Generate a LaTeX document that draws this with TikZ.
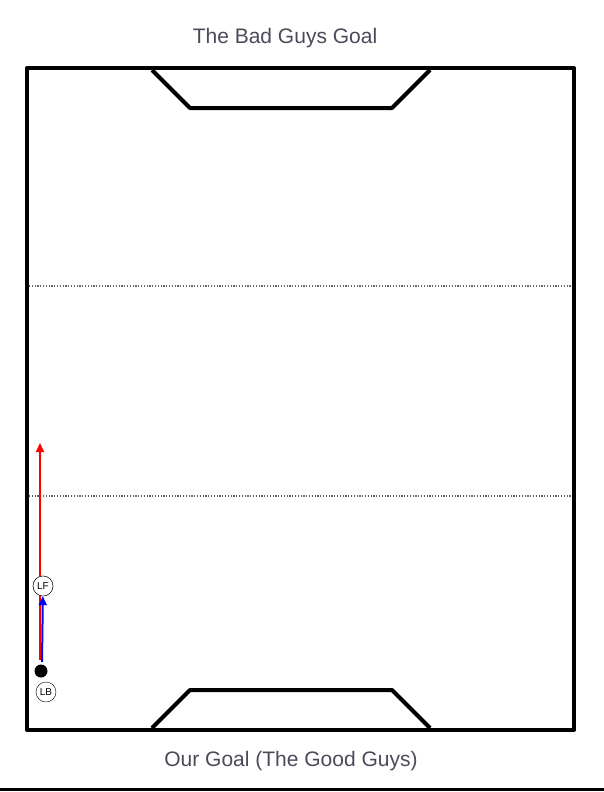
\documentclass[tikz,border=0pt]{standalone}
\usepackage{fontspec}
\setmainfont{Liberation Sans}
\usetikzlibrary{arrows.meta}
\definecolor{txt}{HTML}{4A4A5A}
\begin{document}
\begin{tikzpicture}[x=1pt,y=-1pt,
  fieldline/.style={line width=4pt,line join=round},
  half/.style={black!60,dash pattern=on 1.2pt off 1.6pt,line width=1.2pt},
  player/.style={circle,draw,fill=white,inner sep=0pt,minimum size=20pt,font=\fontsize{10}{11}\selectfont},
  ball/.style={circle,fill=black,inner sep=0pt,minimum size=13pt},
  title/.style={text=txt,font=\fontsize{21}{24}\selectfont}]
\useasboundingbox[fill=white] (0,0) rectangle (604,792);
% titles
\node[title] (bad) at (285,38) {The Bad Guys Goal};
\node[title] (good) at (291,761) {Our Goal (The Good Guys)};
% field
\draw[fieldline] (27,68) rectangle (574,730);
\draw[fieldline] (152,70) -- (190,108) -- (392,108) -- (430,70);
\draw[fieldline] (152,728) -- (190,690) -- (392,690) -- (430,728);
\draw[half] (29,286) -- (572,286);
\draw[half] (29,496) -- (572,496);
% bottom rule
\draw[line width=3pt] (0,789) -- (604,789);
% players
\node[player] (lf) at (43,586) {LF};
\node[ball] (dot) at (41,671) {};
\node[player] (lb) at (46,692) {LB};
\coordinate (redtop) at (40,443);
\coordinate (redbot) at (40,660);
\coordinate (bluebot) at (42,662);
\draw[red,line width=2pt,-{Triangle[length=9pt,width=8pt]}] (redbot) -- (redtop);
\draw[blue,line width=2pt,-{Triangle[length=9pt,width=8pt]}] (bluebot) -- (lf);
\node[player] at (lf) {LF};
\end{tikzpicture}
\end{document}
